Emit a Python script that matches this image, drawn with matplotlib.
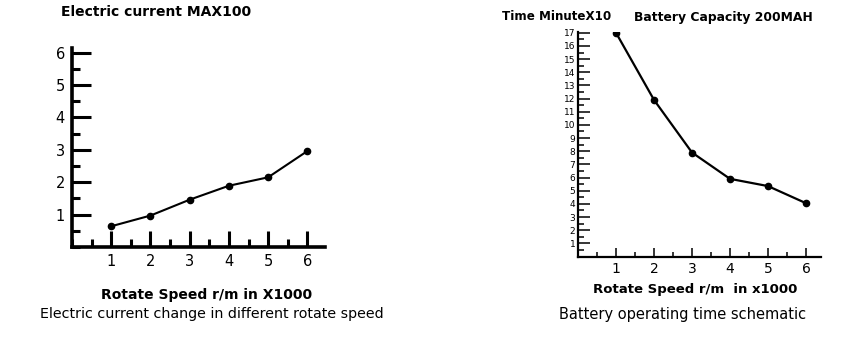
import matplotlib.pyplot as plt
from matplotlib.ticker import MultipleLocator

# data
speed = [1, 2, 3, 4, 5, 6]
current = [0.64, 0.97, 1.46, 1.89, 2.15, 2.96]
run_time = [17.0, 11.9, 7.9, 5.9, 5.35, 4.05]

plt.rcParams['font.family'] = ['DejaVu Sans']

W, H = 850, 337
fig = plt.figure(figsize=(W / 100, H / 100), dpi=100)


def fx(px):
    return px / W


def fy(py):
    return 1 - py / H


# ---- left chart: electric current ----
ax1 = fig.add_axes([fx(72), fy(247), fx(253), 199.3 / H])
ax1.plot(speed, current, color='black', lw=1.5, marker='o', ms=4.5)
ax1.set_xlim(0, 6.45)
ax1.set_ylim(0, 6.15)
ax1.xaxis.set_minor_locator(MultipleLocator(0.5))
ax1.yaxis.set_minor_locator(MultipleLocator(0.5))
ax1.set_xticks([1, 2, 3, 4, 5, 6])
ax1.set_yticks([1, 2, 3, 4, 5, 6])
for s in ['top', 'right']:
    ax1.spines[s].set_visible(False)
for s in ['left', 'bottom']:
    ax1.spines[s].set_linewidth(2.6)
ax1.tick_params(axis='y', which='major', direction='in', length=14, width=2.2,
                labelsize=10.5, pad=5)
ax1.tick_params(axis='y', which='minor', direction='in', length=6, width=2.2)
ax1.tick_params(axis='x', which='major', direction='in', length=11.5, width=2.2,
                labelsize=10.5, pad=5)
ax1.tick_params(axis='x', which='minor', direction='in', length=6, width=2.2)

fig.text(fx(156.5), fy(12), 'Electric current MAX100', ha='center', va='center',
         fontsize=10, fontweight='bold')
fig.text(fx(206.7), fy(294.5), 'Rotate Speed r/m in X1000', ha='center', va='center',
         fontsize=10, fontweight='bold')
fig.text(fx(212), fy(314), 'Electric current change in different rotate speed',
         ha='center', va='center', fontsize=10.3)

# ---- right chart: battery operating time ----
ax2 = fig.add_axes([fx(578), fy(256.5), fx(243.2), 224.4 / H])
ax2.plot(speed, run_time, color='black', lw=1.6, marker='o', ms=4.5)
ax2.set_xlim(0, 6.4)
ax2.set_ylim(0, 17.05)
ax2.set_xticks([1, 2, 3, 4, 5, 6])
ax2.set_yticks(range(1, 18))
ax2.xaxis.set_minor_locator(MultipleLocator(0.5))
ax2.yaxis.set_minor_locator(MultipleLocator(0.5))
for s in ['top', 'right']:
    ax2.spines[s].set_visible(False)
for s in ['left', 'bottom']:
    ax2.spines[s].set_linewidth(1.6)
ax2.tick_params(axis='y', which='major', direction='in', length=8.6, width=1.1,
                labelsize=6.5, pad=2)
ax2.tick_params(axis='y', which='minor', direction='in', length=4.3, width=1.1)
ax2.tick_params(axis='x', which='major', direction='in', length=6.5, width=1.1,
                labelsize=10, pad=4)
ax2.tick_params(axis='x', which='minor', direction='in', length=3.6, width=1.1)

fig.text(fx(557), fy(17), 'Time MinuteX10', ha='center', va='center',
         fontsize=8.6, fontweight='bold')
fig.text(fx(723), fy(17), 'Battery Capacity 200MAH', ha='center', va='center',
         fontsize=8.9, fontweight='bold')
fig.text(fx(695), fy(289), 'Rotate Speed r/m  in x1000', ha='center', va='center',
         fontsize=9.5, fontweight='bold')
fig.text(fx(682.5), fy(314), 'Battery operating time schematic',
         ha='center', va='center', fontsize=10.5)

fig.savefig('out.png', dpi=100)
